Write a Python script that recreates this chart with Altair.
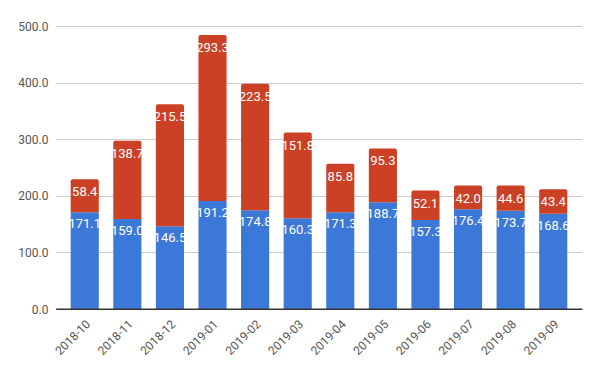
import altair as alt
import pandas as pd

months = ["2018-10", "2018-11", "2018-12", "2019-01", "2019-02", "2019-03",
          "2019-04", "2019-05", "2019-06", "2019-07", "2019-08", "2019-09"]
blue_vals = [171.1, 159.0, 146.5, 191.2, 174.8, 160.3, 171.3, 188.7, 157.3, 176.4, 173.7, 168.6]
red_vals = [58.4, 138.7, 215.5, 293.3, 223.5, 151.8, 85.8, 95.3, 52.1, 42.0, 44.6, 43.4]
y_ticks = [0, 100, 200, 300, 400, 500]

BLUE = "#3c78d8"
RED = "#cc4125"

df = pd.DataFrame({"month": months, "blue": blue_vals, "red": red_vals})
df["total"] = df["blue"] + df["red"]

x = alt.X("month:N", sort=months, title=None,
          scale=alt.Scale(paddingInner=0.34, paddingOuter=0.345),
          axis=alt.Axis(labelAngle=-45, labelAlign="right", labelBaseline="top",
                        labelFont="Roboto", labelFontSize=12, labelColor="#555555",
                        ticks=False, domainColor="#333333", labelPadding=9, grid=False))
yscale = alt.Scale(domain=[0, 520], nice=False)

base = alt.Chart(df)

blue_bar = base.mark_bar(color=BLUE).encode(
    x=x,
    y=alt.Y("blue:Q", scale=yscale, title=None,
            axis=alt.Axis(values=y_ticks, format=".1f", labelFont="Roboto", labelFontSize=12,
                          labelColor="#555555", ticks=False, domain=False, gridColor="#cccccc",
                          labelPadding=8)),
)
red_bar = base.mark_bar(color=RED, cornerRadiusTopLeft=2, cornerRadiusTopRight=2).encode(
    x=x, y=alt.Y("total:Q", scale=yscale), y2="blue:Q"
)
blue_text = base.mark_text(color="white", font="Roboto", fontSize=13, dy=12, baseline="middle").encode(
    x=x, y=alt.Y("blue:Q", scale=yscale), text=alt.Text("blue:Q", format=".1f")
)
red_text = base.mark_text(color="white", font="Roboto", fontSize=13, dy=13, baseline="middle").encode(
    x=x, y=alt.Y("total:Q", scale=yscale), text=alt.Text("red:Q", format=".1f")
)
zero_rule = alt.Chart(pd.DataFrame({"z": [0]})).mark_rule(color="#333333").encode(
    y=alt.Y("z:Q", scale=yscale)
)

chart = alt.layer(blue_bar, red_bar, blue_text, red_text, zero_rule).properties(
    width=526, height=294,
    background="white",
    autosize=alt.AutoSizeParams(type="none"),
    padding={"left": 48, "top": 7, "right": 10, "bottom": 54},
).configure_view(strokeWidth=0, stroke="transparent")

chart.save("out.html", embed_options={"renderer": "svg", "actions": False})
